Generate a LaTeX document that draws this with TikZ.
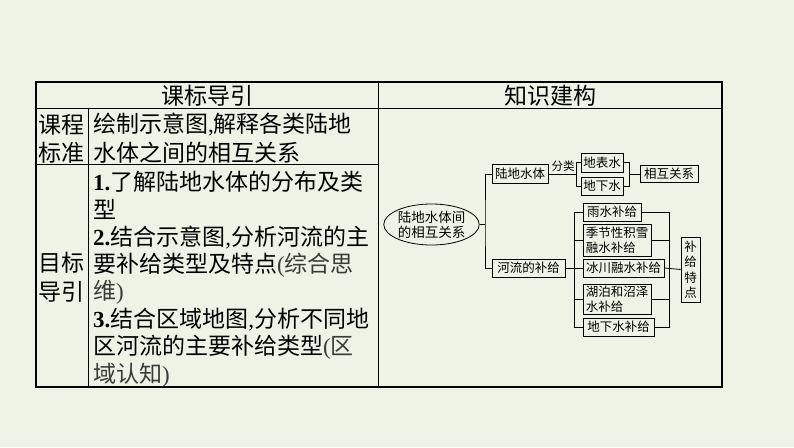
\documentclass[tikz,border=0pt]{standalone}
\usepackage{fontspec}
\setmainfont{Noto Sans CJK SC}
\newfontfamily\tnr{Liberation Serif}
\usetikzlibrary{shapes.geometric}
\definecolor{bg}{HTML}{EEF4E5}
\definecolor{soft}{HTML}{3A3A3A}
\newcommand\mynum[1]{{\tnr\bfseries #1.}}
\newcommand\mycm{{\tnr,}}
\newcommand\mylp{{\tnr(}}
\newcommand\myrp{{\tnr)}}
\begin{document}
\begin{tikzpicture}[x=1pt,y=-1pt,
  big/.style={font=\fontsize{23}{27.6}\selectfont, inner sep=0pt},
  ln/.style={big, anchor=west},
  box/.style={draw, line width=0.8pt, font=\fontsize{12.5}{15}\selectfont, inner sep=0pt, align=left},
  conn/.style={line width=0.8pt},
  thick frame/.style={line width=1.6pt},
  thin rule/.style={line width=0.9pt}
]
\useasboundingbox[fill=bg] (0,0) rectangle (794,447);

% ---------- table frame ----------
\draw[thin rule] (36,108) -- (722,108);
\draw[thin rule] (378,82) -- (378,387);
\draw[thin rule] (88,108) -- (88,387);
\draw[thin rule] (36,164) -- (378,164);
\draw[thick frame] (36,82) rectangle (722,387);

% ---------- headers ----------
\node[big] (h1) at (207,96) {课标导引};
\node[big] (h2) at (550,96) {知识建构};

% ---------- left column ----------
\node[big] (kc1) at (61,125) {课程};
\node[big] (kc2) at (61,153) {标准};
\node[big] (mb1) at (61,263) {目标};
\node[big] (mb2) at (61,292) {导引};

% ---------- cell texts ----------
\node[ln] (a1) at (93,125) {绘制示意图\mycm 解释各类陆地};
\node[ln] (a2) at (93,153) {水体之间的相互关系};

\node[ln] (b1) at (93,182) {\mynum{1}了解陆地水体的分布及类};
\node[ln] (b2) at (93,209.6) {型};
\node[ln] (b3) at (93,237.2) {\mynum{2}结合示意图\mycm 分析河流的主};
\node[ln] (b4) at (93,264.8) {要补给类型及特点{\color{soft}\mylp 综合思}};
\node[ln] (b5) at (93,292.4) {{\color{soft}维\myrp}};
\node[ln] (b6) at (93,320) {\mynum{3}结合区域地图\mycm 分析不同地};
\node[ln] (b7) at (93,347.6) {区河流的主要补给类型{\color{soft}\mylp 区}};
\node[ln] (b8) at (93,375.2) {{\color{soft}域认知\myrp}};

% ---------- knowledge map ----------
\node[draw, ellipse, line width=0.8pt, minimum width=87pt, minimum height=41pt, inner sep=0pt,
      align=center, font=\fontsize{13.5}{15}\selectfont] (ell) at (431.5,224.5) {陆地水体间\\的相互关系};

\node[box, minimum width=56pt, minimum height=19pt] (ld) at (520,174) {陆地水体};
\node[box, minimum width=73pt, minimum height=18pt] (hl) at (528.5,268) {河流的补给};

\node[box, minimum width=42pt, minimum height=19pt] (dbs) at (602,162.5) {地表水};
\node[box, minimum width=42pt, minimum height=18pt] (dxs) at (602,186) {地下水};
\node[box, minimum width=58pt, minimum height=17pt] (xh) at (669,174) {相互关系};
\node[font=\fontsize{11.5}{13}\selectfont, inner sep=0pt] (fl) at (563,166) {分类};

\node[box, minimum width=58pt, minimum height=18pt] (ys) at (612,212) {雨水补给};
\node[box, minimum width=68pt, minimum height=32pt] (jj) at (617,240) {季节性积雪\\融水补给};
\node[box, minimum width=81pt, minimum height=18pt] (bc) at (623.5,268) {冰川融水补给};
\node[box, minimum width=68pt, minimum height=30pt] (hp) at (617,299) {湖泊和沼泽\\水补给};
\node[box, minimum width=71pt, minimum height=18pt] (dx) at (618.5,327) {地下水补给};
\node[box, minimum width=19pt, minimum height=65pt, align=center,
      font=\fontsize{12.5}{15.5}\selectfont] (tz) at (690.5,269.5) {补\\给\\特\\点};

\coordinate (j1) at (485,224.5);
\coordinate (j2) at (576,174);
\coordinate (j3) at (629,174);
\coordinate (j4) at (574,268);
\coordinate (j5) at (669,268);

\draw[conn] (ell.east) -- (j1);
\draw[conn] (ld.west) -| (j1) |- (hl.west);

\draw[conn] (ld.east) -- (j2);
\draw[conn] (dbs.west) -| (j2) |- (dxs.west);
\draw[conn] (dbs.east) -| (j3) |- (dxs.east);
\draw[conn] (j3) -- (xh.west);

\draw[conn] (hl.east) -- (bc.west);
\draw[conn] (ys.west) -- (ys.west -| j4) -- (dx.west -| j4) -- (dx.west);
\draw[conn] (jj.west) -- (jj.west -| j4);
\draw[conn] (hp.west) -- (hp.west -| j4);

\draw[conn] (ys.east) -- (ys.east -| j5) -- (dx.east -| j5) -- (dx.east);
\draw[conn] (jj.east) -- (jj.east -| j5);
\draw[conn] (hp.east) -- (hp.east -| j5);
\draw[conn] (bc.east) -- (tz.west);
\end{tikzpicture}
\end{document}
